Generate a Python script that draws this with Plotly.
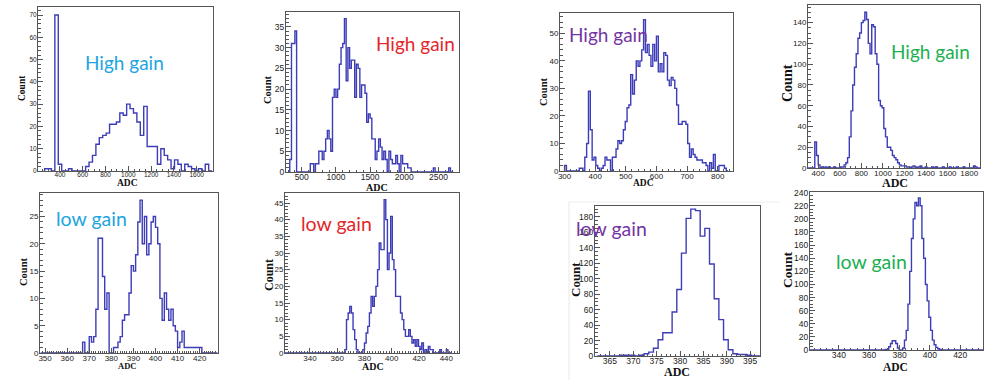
import plotly.graph_objects as go

W, H = 994, 380

# ---------------- data (bin start, bin width, counts) ----------------
p1_start, p1_width = 265, 30
p1_counts = [1, 1, 0, 70, 3, 0, 0, 1, 0, 0, 0, 0, 2, 4, 7, 12, 15, 16, 17, 21,
             21, 22, 26, 25, 30, 28, 26, 22, 16, 29, 11, 11, 11, 3, 10, 7, 5, 1, 5, 3,
             0, 3, 2, 1, 0, 1, 0, 3, 0]

p2_start, p2_width = 300, 25
p2_counts = [0, 3, 31, 31, 34, 0, 0, 0, 0, 0, 0, 0, 0, 2, 2, 0, 2, 2, 5, 5,
             3, 5, 8, 10, 8, 5, 18, 20, 18, 20, 26, 30, 31, 37, 22, 30, 25, 27, 27, 18,
             26, 25, 18, 21, 21, 19, 12, 14, 13, 8, 8, 3, 5, 8, 6, 3, 5, 3, 0, 5,
             3, 2, 2, 4, 2, 0, 4, 2, 2, 2, 1, 1, 0, 0, 0, 0, 0, 0, 0, 0,
             0, 0, 0, 0, 0, 1, 0, 0, 0, 0, 0, 0, 0, 0, 1, 0]

p3_start, p3_width = 300, 6
p3_counts = [2, 0, 0, 0, 0, 0, 0, 0, 1, 1, 0, 5, 10, 29, 15, 4, 5, 2, 1, 0,
             1, 2, 5, 4, 4, 0, 5, 5, 8, 11, 10, 11, 15, 18, 23, 24, 35, 28, 33, 40,
             38, 40, 44, 55, 43, 46, 42, 38, 46, 40, 49, 36, 39, 36, 43, 42, 33, 31, 34, 33,
             30, 24, 17, 17, 18, 18, 17, 10, 5, 8, 6, 5, 4, 4, 4, 3, 3, 2, 0, 3,
             1, 6, 0, 0, 2, 2, 2, 1, 0]

p4_start, p4_width = 304, 16
p4_counts = [0, 0, 0, 0, 25, 12, 3, 0, 1, 0, 1, 0, 1, 0, 0, 1, 0, 0, 0, 1,
             1, 3, 5, 10, 30, 55, 80, 97, 110, 125, 130, 140, 142, 150, 143, 120, 110, 138, 136, 110,
             100, 65, 60, 58, 38, 30, 20, 20, 17, 12, 10, 8, 5, 3, 2, 2, 2, 1, 1, 0,
             1, 2, 1, 0, 1, 2, 0, 0, 1, 0, 0, 0, 1, 0, 1, 0, 0, 0, 1, 0,
             0, 0, 1, 0, 0, 0, 1, 0, 0, 0, 1, 0, 0, 0, 0, 0, 2, 1, 0, 0]

p5_start, p5_width = 348, 1
p5_counts = [0, 0, 0, 0, 0, 0, 0, 0, 0, 0, 0, 0, 0, 0, 0, 0, 0, 0, 0, 2,
             0, 0, 3, 2, 3, 8, 21, 21, 14, 8, 11, 0, 0, 1, 1, 2, 3, 6, 7, 7,
             11, 16, 15, 18, 24, 28, 20, 25, 18, 20, 24, 25, 23, 20, 10, 6, 11, 8, 6, 8,
             5, 4, 1, 2, 4, 1, 1, 1, 1, 1, 1, 1, 1, 0, 0, 0, 0, 0, 0, 0]

p6_start, p6_width = 320, 1.2
p6_counts = [0] * 38 + [1, 10, 12, 14, 12, 7, 4, 1, 0, 0,
                        0, 1, 3, 6, 8, 12, 17, 14, 17, 20,
                        25, 33, 31, 31, 46, 40, 25, 30, 41, 28,
                        25, 17, 17, 17, 12, 10, 7, 5, 5, 7,
                        5, 3, 4, 2, 4, 2, 1, 3, 0, 1,
                        0, 2, 1, 1, 0, 0, 0, 0, 1, 0,
                        0, 0, 1, 0, 0]

p7_start, p7_width = 362.3, 1
p7_counts = [0, 0, 0, 0, 0, 1, 1, 1, 0, 1, 3, 5, 10, 21, 30, 30, 57, 86, 133, 178,
             190, 188, 155, 165, 119, 74, 47, 21, 8, 3, 2, 2, 1, 0, 0]

p8_start, p8_width = 320, 1.15
p8_counts = [0] * 44 + [1, 1, 5, 10, 14, 14, 10, 3, 0, 0, 3, 15, 30, 70, 120, 170,
                        200, 225, 220, 232, 220, 170, 140, 100, 75, 50, 30, 15, 8, 4,
                        2, 1] + [0] * 24

gain_labels = ["High gain", "High gain", "High gain", "High gain",
               "low gain", "low gain", "low gain", "low gain"]
gain_colors = ["#22A5DF", "#E4262C", "#7434A4", "#1DAF52",
               "#22A5DF", "#E4262C", "#7434A4", "#1DAF52"]
y_title = "Count"
x_title = "ADC"

# ---------------- layout of the 8 panels ----------------
panels = [
    dict(d=(p1_start, p1_width, p1_counts), px=(38, 213), py=(7, 171), xr=(207, 1743), yr=(0, 73.6),
         xt0=400, xdt=200, xm=50, ydt=10, ym=2, tf=6.5,
         cnt=(22, 88, 9.5), adc=(127, 183, 9.5), lab=(125, 62, 19)),
    dict(d=(p2_start, p2_width, p2_counts), px=(286, 459), py=(12, 172), xr=(270, 2800), yr=(0, 38.6),
         xt0=500, xdt=500, xm=100, ydt=5, ym=1, tf=8.5,
         cnt=(268, 90, 10.5), adc=(377, 187, 10), lab=(415, 43, 19)),
    dict(d=(p3_start, p3_width, p3_counts), px=(560, 733), py=(13, 171), xr=(285, 850), yr=(0, 57.4),
         xt0=300, xdt=100, xm=20, ydt=10, ym=2, tf=8,
         cnt=(544, 92, 10.5), adc=(643, 183, 9.5), lab=(608, 35, 19)),
    dict(d=(p4_start, p4_width, p4_counts), px=(808, 980), py=(5, 168), xr=(305, 1900), yr=(0, 157),
         xt0=400, xdt=200, xm=50, ydt=20, ym=5, tf=8,
         cnt=(787, 83, 14), adc=(895, 183, 12), lab=(930, 52, 19)),
    dict(d=(p5_start, p5_width, p5_counts), px=(40, 218), py=(193, 353), xr=(347.7, 428.3), yr=(0, 29.3),
         xt0=350, xdt=10, xm=1, ydt=5, ym=1, tf=8,
         cnt=(23, 272, 10.5), adc=(127, 366, 8.5), lab=(91, 218, 19.5)),
    dict(d=(p6_start, p6_width, p6_counts), px=(285, 459), py=(193, 353), xr=(321.7, 449.3), yr=(0, 48),
         xt0=340, xdt=20, xm=2, ydt=5, ym=1, tf=8,
         cnt=(269, 275, 12), adc=(373, 366, 10), lab=(336, 223, 19.5)),
    dict(d=(p7_start, p7_width, p7_counts), px=(595, 760), py=(206, 356), xr=(361.8, 397.1), yr=(0, 194),
         xt0=365, xdt=5, xm=1, ydt=20, ym=5, tf=8.5,
         cnt=(575, 280, 13), adc=(677, 372, 12), lab=(611, 228, 19.5)),
    dict(d=(p8_start, p8_width, p8_counts), px=(810, 983), py=(192, 350), xr=(321, 435), yr=(0, 241),
         xt0=340, xdt=20, xm=4, ydt=20, ym=5, tf=8.5,
         cnt=(787, 270, 13.5), adc=(895, 367, 11.5), lab=(871, 261, 19.5)),
]


def steps(start, width, counts):
    xs, ys = [start], [0]
    for i, c in enumerate(counts):
        xs.append(start + i * width)
        ys.append(c)
    xs.append(start + len(counts) * width)
    ys.append(0)
    return xs, ys


fig = go.Figure()
annotations = []
layout = {}
frame_col = "#555555"
for k, p in enumerate(panels):
    n = "" if k == 0 else str(k + 1)
    xs, ys = steps(*p["d"])
    fig.add_trace(go.Scatter(x=xs, y=ys, mode="lines", line=dict(color="#3d3db8", width=1.4, shape="hv"),
                             xaxis="x" + n, yaxis="y" + n, showlegend=False, hoverinfo="skip"))
    l, r = p["px"]
    t, b = p["py"]
    tickfont = dict(family="Liberation Sans, Arial", size=p["tf"], color="#222222")
    layout["xaxis" + n] = dict(domain=[l / W, r / W], anchor="y" + n, range=list(p["xr"]),
                               showline=True, mirror=True, linecolor=frame_col, linewidth=1,
                               ticks="inside", ticklen=5, tickcolor=frame_col, tick0=p["xt0"], dtick=p["xdt"],
                               minor=dict(ticks="inside", ticklen=2.5, dtick=p["xm"], tickcolor=frame_col),
                               showgrid=False, zeroline=False, tickfont=tickfont, ticklabelstandoff=-3,
                               automargin=False)
    layout["yaxis" + n] = dict(domain=[1 - b / H, 1 - t / H], anchor="x" + n, range=list(p["yr"]),
                               showline=True, mirror=True, linecolor=frame_col, linewidth=1,
                               ticks="inside", ticklen=5, tickcolor=frame_col, tick0=0, dtick=p["ydt"],
                               minor=dict(ticks="inside", ticklen=2.5, dtick=p["ym"], tickcolor=frame_col),
                               showgrid=False, zeroline=False, tickfont=tickfont, ticklabelstandoff=-1,
                               automargin=False)
    cx, cy, cs = p["cnt"]
    annotations.append(dict(x=cx / W, y=1 - cy / H, xref="paper", yref="paper", text="<b>" + y_title + "</b>",
                            textangle=-90, showarrow=False, xanchor="center", yanchor="middle",
                            font=dict(family="Liberation Serif, Times New Roman", size=cs, color="#111111")))
    ax_, ay_, as_ = p["adc"]
    annotations.append(dict(x=ax_ / W, y=1 - ay_ / H, xref="paper", yref="paper", text="<b>" + x_title + "</b>",
                            showarrow=False, xanchor="center", yanchor="middle",
                            font=dict(family="Liberation Serif, Times New Roman", size=as_, color="#111111")))
    gx, gy, gs = p["lab"]
    annotations.append(dict(x=gx / W, y=1 - gy / H, xref="paper", yref="paper", text=gain_labels[k],
                            showarrow=False, xanchor="center", yanchor="middle",
                            font=dict(family="Lato, Open Sans, sans-serif", size=gs, color=gain_colors[k])))

fig.update_layout(**layout)
fig.update_layout(width=W, height=H, margin=dict(l=0, r=0, t=0, b=0, autoexpand=False),
                  paper_bgcolor="white", plot_bgcolor="white", annotations=annotations,
                  shapes=[dict(type="line", xref="paper", yref="paper", x0=569 / W, x1=569 / W,
                               y0=0, y1=1 - 202 / H, line=dict(color="#e8e8e8", width=1)),
                          dict(type="line", xref="paper", yref="paper", x0=569 / W, x1=780 / W,
                               y0=1 - 202 / H, y1=1 - 202 / H, line=dict(color="#eeeeee", width=1))])
fig.write_html("out.html", config={"displayModeBar": False},
               post_script="document.body.style.margin='0';document.body.style.overflow='hidden';")
